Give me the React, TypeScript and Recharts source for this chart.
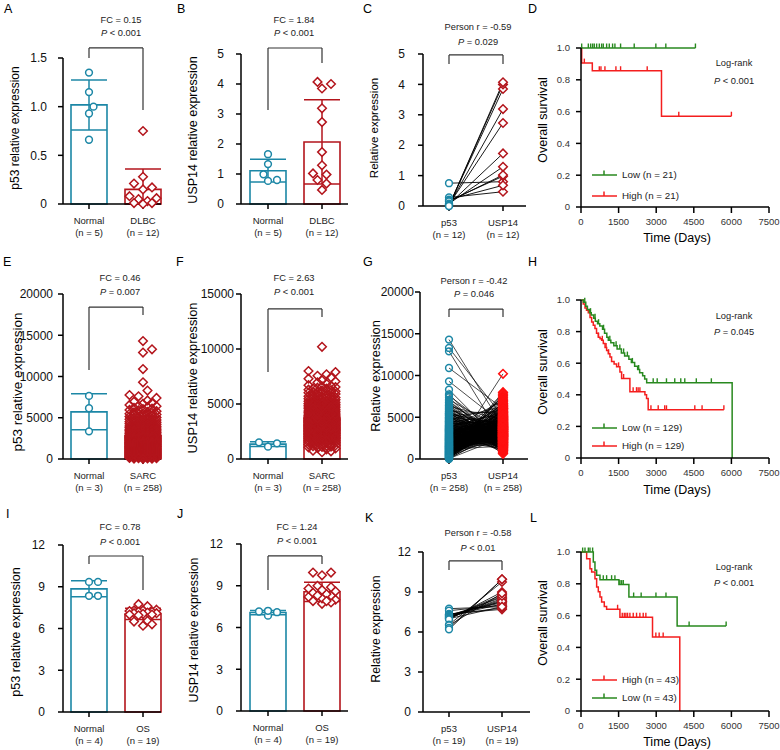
import React from "react";
import {
  ComposedChart,
  Bar,
  Cell,
  ErrorBar,
  Scatter,
  Line,
  XAxis,
  YAxis,
  ReferenceLine,
} from "recharts";

const FONT = '"Liberation Sans", Arial, Helvetica, sans-serif';
const TEAL = "#1c87a6";
const WINE = "#b3151c";
const RED = "#f41e1e";
const GREEN = "#28891f";

// ---------- DLBC (A, B, C) ----------
const dlbcNormalP53 = [1.35, 1.15, 1.0, 0.93, 0.66];
const dlbcNormalUsp14 = [1.66, 1.33, 0.99, 0.77, 0.8];
// pair order: dlbcP53[i] <-> dlbcUsp14[i]
const dlbcP53 = [0.75, 0.28, 0.21, 0.17, 0.15, 0.08, 0.06, 0.05, 0.03, 0.01, 0.01, 0.0];
const dlbcUsp14 = [0.8, 0.47, 0.68, 0.98, 1.02, 1.29, 1.73, 2.73, 3.19, 3.85, 4.0, 4.07];

// ---------- SARC (E, F, G) ----------
const sarcNormalP53 = [7650, 6150, 3350];
const sarcNormalUsp14 = [1515, 1120, 1425];
const sarcP53 = [
  14300, 13300, 12900, 10900, 9300, 8300, 7750, 7600, 7400, 7100, 6950, 6800,
  6700, 6550, 6450, 6400, 6300, 6200, 6100, 6050, 5950, 5900, 5800, 5700,
  5650, 5600, 5520, 5480, 5420, 5400, 5350, 5300, 5250, 5200, 5150, 5080,
  5020, 4980, 4950, 4900, 4870, 4820, 4780, 4730, 4700, 4650, 4600, 4560,
  4520, 4490, 4460, 4420, 4400, 4350, 4320, 4280, 4250, 4200, 4160, 4120,
  4080, 4050, 4010, 3990, 3960, 3930, 3900, 3870, 3840, 3810, 3780, 3750,
  3720, 3690, 3660, 3630, 3600, 3580, 3550, 3530, 3510, 3490, 3470, 3450,
  3420, 3400, 3380, 3350, 3320, 3300, 3270, 3250, 3220, 3200, 3170, 3150,
  3120, 3100, 3070, 3040, 3010, 2990, 2970, 2950, 2920, 2900, 2880, 2850,
  2830, 2800, 2780, 2760, 2730, 2710, 2690, 2660, 2640, 2620, 2600, 2580,
  2550, 2530, 2510, 2490, 2470, 2450, 2430, 2410, 2390, 2370, 2350, 2330,
  2310, 2290, 2270, 2250, 2230, 2210, 2190, 2170, 2150, 2120, 2100, 2080,
  2060, 2040, 2010, 1990, 1970, 1950, 1930, 1910, 1890, 1870, 1850, 1830,
  1810, 1790, 1770, 1750, 1730, 1710, 1690, 1670, 1650, 1630, 1610, 1590,
  1570, 1550, 1530, 1520, 1505, 1490, 1470, 1455, 1440, 1420, 1400, 1385,
  1370, 1350, 1330, 1315, 1300, 1280, 1260, 1245, 1230, 1210, 1190, 1175,
  1160, 1140, 1120, 1105, 1090, 1070, 1050, 1030, 1010, 990, 970, 955,
  940, 920, 900, 885, 870, 850, 830, 815, 800, 780, 760, 745,
  730, 710, 690, 675, 660, 640, 620, 605, 590, 570, 550, 535,
  520, 505, 490, 470, 455, 440, 420, 400, 385, 370, 350, 330,
  315, 300, 280, 260, 245, 230, 210, 190, 175, 160, 140, 120,
  105, 90, 70, 50, 30, 10,
];
// same patients, same order as sarcP53
const sarcUsp14 = [
  3900, 5050, 2350, 6040, 4210, 1800, 1240, 2660, 880, 3520, 1980, 2450,
  1520, 3050, 700, 2080, 4720, 1610, 2760, 1310, 3370, 960, 2200, 5480,
  2540, 1060, 3600, 1890, 4090, 2930, 1450, 3260, 620, 2310, 5820, 1740,
  3140, 2030, 4370, 1170, 2870, 3780, 1660, 2480, 6300, 3430, 1940, 2600,
  4150, 1380, 3010, 2150, 5270, 2720, 1090, 3690, 1840, 4560, 2400, 3310,
  1560, 2980, 4880, 2240, 3830, 760, 2820, 3540, 1710, 5600, 2090, 3170,
  4290, 1270, 3460, 2640, 6960, 1910, 3100, 4010, 2290, 1480, 3730, 2560,
  5130, 1340, 2840, 3960, 2420, 4450, 1020, 3280, 2700, 4770, 1760, 3580,
  2130, 6150, 3070, 1590, 4630, 2790, 3880, 2360, 5340, 1130, 3220, 4080,
  2950, 4310, 1680, 3650, 2500, 7150, 3350, 1990, 4920, 2680, 3810, 1420,
  3720, 2210, 5560, 3000, 4190, 1830, 3490, 6480, 2620, 4000, 2880, 1200,
  4470, 2730, 3600, 1920, 5020, 3150, 4260, 2330, 6610, 3410, 2040, 3940,
  2590, 4850, 3230, 5710, 1650, 3760, 2810, 4380, 3060, 5190, 2470, 4140,
  3520, 6020, 2280, 4600, 3310, 1980, 5400, 3870, 2740, 4330, 7420, 3120,
  4690, 2910, 3990, 5230, 2170, 3680, 4960, 1730, 6220, 3360, 4520, 2890,
  3200, 5650, 4070, 2650, 4790, 3570, 6390, 2930, 5060, 3840, 1540, 4410,
  5310, 3740, 2460, 4980, 6710, 3290, 4240, 5870, 2840, 4650, 3950, 7050,
  3020, 5540, 4360, 6080, 3480, 5760, 2320, 4890, 7560, 3860, 5150, 4110,
  4560, 6540, 3640, 5380, 2990, 4740, 6850, 3920, 5920, 4280, 8000, 3380,
  5450, 3780, 6270, 4820, 7300, 3510, 5080, 6650, 4020, 5980, 2780, 4710,
  6120, 4940, 7700, 3690, 5590, 10200, 4460, 6420, 5250, 7900, 4170, 6000,
  5700, 3300, 4600, 2600, 5000, 3700,
];

// ---------- OS (I, J, K) ----------
const osNormalP53 = [9.35, 9.35, 8.35, 8.35];
const osNormalUsp14 = [7.15, 6.85, 7.1, 7.2];
const osP53 = [7.75, 7.6, 7.35, 7.3, 7.3, 7.25, 7.2, 7.2, 7.15, 7.1, 7.1, 7.05, 7.0, 7.0, 6.95, 6.55, 6.5, 6.3, 6.2];
const osUsp14 = [7.9, 8.0, 7.7, 8.2, 7.8, 8.3, 8.1, 8.6, 8.4, 8.5, 8.3, 8.8, 7.9, 8.7, 9.0, 9.75, 8.9, 9.95, 9.95];

// ---------- survival curves (days, survival) ----------
const dLowT = [0, 4565];
const dLowS = [1, 1];
const dLowCens = [27, 292, 385, 464, 530, 624, 730, 823, 889, 1022, 1128, 1260, 1353, 1579, 2123, 2986, 3384, 4565];
const dHighT = [0, 27, 451, 3211, 6000];
const dHighS = [1, 0.905, 0.857, 0.571, 0.571];
const dHighCens = [133, 730, 796, 955, 1393, 1579, 2641, 3901, 6000];

const hLowT = [0, 95, 190, 255, 340, 410, 510, 570, 660, 750, 860, 940, 1030, 1090, 1190, 1310, 1440, 1610, 1740, 1910, 2010, 2140, 2260, 2340, 2460, 2540, 2620, 6030];
const hLowS = [1, 0.985, 0.96, 0.94, 0.92, 0.905, 0.885, 0.865, 0.85, 0.835, 0.815, 0.79, 0.765, 0.745, 0.73, 0.71, 0.69, 0.665, 0.645, 0.625, 0.605, 0.58, 0.56, 0.54, 0.52, 0.5, 0.476, 0];
const hLowCens = [150, 380, 560, 700, 900, 1150, 1400, 1550, 1700, 1850, 2050, 2300, 2880, 3040, 3410, 3740, 3980, 4140, 4600, 5200];
const hHighT = [0, 90, 160, 220, 290, 360, 425, 490, 557, 620, 690, 760, 823, 890, 960, 1022, 1090, 1155, 1220, 1320, 1420, 1553, 1620, 1951, 2550, 2615, 2680, 5700];
const hHighS = [1, 0.975, 0.95, 0.935, 0.92, 0.89, 0.86, 0.84, 0.82, 0.79, 0.765, 0.755, 0.745, 0.725, 0.7, 0.68, 0.66, 0.64, 0.61, 0.595, 0.577, 0.545, 0.503, 0.42, 0.4, 0.377, 0.305, 0.305];
const hHighCens = [700, 850, 1000, 1100, 1500, 1700, 2080, 2215, 2280, 2350, 2790, 3080, 3340, 3410, 4540, 4830, 5700];

const lLowT = [0, 491, 557, 624, 757, 1513, 1911, 3835, 5790];
const lLowS = [1, 0.937, 0.885, 0.853, 0.826, 0.795, 0.717, 0.535, 0.535];
const lLowCens = [66, 159, 292, 358, 464, 889, 1022, 1221, 1353, 1553, 1620, 1686, 2100, 2400, 2990, 3390, 4313, 5790];
const lHighT = [0, 226, 358, 425, 557, 624, 690, 757, 823, 929, 1022, 1553, 2853, 3941];
const lHighS = [1, 0.958, 0.895, 0.874, 0.832, 0.78, 0.75, 0.717, 0.686, 0.658, 0.64, 0.59, 0.465, 0];
const lHighCens = [1460, 1646, 1726, 1791, 1858, 1951, 2084, 2216, 2349, 2482, 2588, 2986, 3118, 3278];

const kmTicks = [0, 1500, 3000, 4500, 6000, 7500];
const survTicks = [0, 0.2, 0.4, 0.6, 0.8, 1.0];

// ---------- helpers ----------
const YW = 60;
const MT = 40;
const MR = 16;
const XH = 45;
const AX = { stroke: "#000", strokeWidth: 1.5 };

const mean = (a: number[]) => a.reduce((s, v) => s + v, 0) / a.length;
const sd = (a: number[]) => {
  const m = mean(a);
  return Math.sqrt(a.reduce((s, v) => s + (v - m) * (v - m), 0) / (a.length - 1));
};

// simple beeswarm: horizontal pixel offsets so markers do not sit on each other
function swarm(vals: number[], pxPerUnit: number, size: number, maxOff: number) {
  const order = vals.map((_, i) => i).sort((a, b) => vals[a] - vals[b]);
  const step = size * 0.6;
  const cands = [0];
  for (let k = 1; k * step <= maxOff; k++) cands.push(k * step, -k * step);
  const placed: { x: number; y: number }[] = [];
  const out = vals.map(() => 0);
  for (const i of order) {
    const y = vals[i] * pxPerUnit;
    let best = 0;
    let bestD = -1;
    for (const c of cands) {
      let dmin = Infinity;
      for (let j = placed.length - 1; j >= 0 && y - placed[j].y < size; j--) {
        const d = Math.hypot(c - placed[j].x, y - placed[j].y);
        if (d < dmin) dmin = d;
      }
      if (dmin >= size) {
        best = c;
        break;
      }
      if (dmin > bestD) {
        bestD = dmin;
        best = c;
      }
    }
    placed.push({ x: best, y });
    out[i] = best;
  }
  return out;
}

const circle = (color: string, fill = "#fff") => (p: any) =>
  p.cx == null ? <g /> : (
    <circle cx={p.cx + (p.payload.dx || 0)} cy={p.cy} r={3.4} fill={fill} stroke={color} strokeWidth={1.5} />
  );

const diamond = (color: string, fill = "#fff") => (p: any) => {
  if (p.cx == null) return <g />;
  const x = p.cx + (p.payload.dx || 0);
  const y = p.cy;
  const r = 4.3;
  return (
    <path d={`M${x},${y - r}L${x + r},${y}L${x},${y + r}L${x - r},${y}Z`} fill={fill} stroke={color} strokeWidth={1.5} />
  );
};

const censor = (color: string) => (p: any) =>
  p.cx == null ? <g /> : <line x1={p.cx} x2={p.cx} y1={p.cy} y2={p.cy - 4.5} stroke={color} strokeWidth={1.4} />;

// dense groups are drawn as open outlines so the overlap builds a solid mass
const fillFor = (n: number) => (n > 50 ? "none" : "#fff");

function CatTick({ x, y, payload, names, counts }: any) {
  const i = Math.round(payload.value) - 1;
  return (
    <text x={x} y={y} textAnchor="middle" fontSize={9.5} fill="#222" fontFamily={FONT}>
      <tspan x={x} dy={15}>{names[i]}</tspan>
      <tspan x={x} dy={11.5}>{`(n = ${counts[i]})`}</tspan>
    </text>
  );
}

function bracketLines(b: number[]) {
  const st = { stroke: "#333", strokeWidth: 1.2, ifOverflow: "visible" as const };
  return [
    <ReferenceLine key="b0" segment={[{ x: 1, y: b[0] }, { x: 2, y: b[0] }]} {...st} />,
    <ReferenceLine key="b1" segment={[{ x: 1, y: b[0] }, { x: 1, y: b[1] }]} {...st} />,
    <ReferenceLine key="b2" segment={[{ x: 2, y: b[0] }, { x: 2, y: b[2] }]} {...st} />,
  ];
}

function catDomain(g: any) {
  const band = g.c2 - g.c1;
  return [1 - (g.c1 - g.left) / band, 2 + (g.right - g.c2) / band];
}

const tickFmt = (ticks: number[]) => {
  const dec = ticks.some((t) => t % 1 !== 0);
  return (v: number) => (v === 0 ? "0" : dec ? v.toFixed(1) : String(v));
};

function ValueAxis({ yMax, yTicks, gap }: any) {
  return null;
}

function BarPanel({ g, yMax, yTicks, names, sets, colors, marks, bracket, gap }: any) {
  const pw = g.right - g.left;
  const ph = g.bottom - g.top;
  const pxY = ph / yMax;
  const rows = sets.map((vals: number[], i: number) => {
    const m = mean(vals);
    const s = sd(vals);
    return { x: i + 1, mean: m, ["err" + i]: [Math.min(s, m), s] };
  });
  const dots = sets.map((vals: number[], i: number) => {
    const off = swarm(vals, pxY, 7.5, 15);
    return vals.map((v, j) => ({ x: i + 1, v, dx: off[j] }));
  });
  const counts = sets.map((s: number[]) => s.length);
  return (
    <div style={{ position: "absolute", left: g.left - YW, top: g.top - MT }}>
      <ComposedChart width={pw + YW + MR} height={ph + MT + XH} data={rows} margin={{ top: MT, right: MR, bottom: 0, left: 0 }}>
        <XAxis
          dataKey="x"
          type="number"
          domain={catDomain(g)}
          ticks={[1, 2]}
          interval={0}
          height={XH}
          axisLine={AX}
          tickLine={AX}
          tickSize={5}
          tickMargin={0}
          tick={(p: any) => <CatTick {...p} names={names} counts={counts} />}
        />
        <YAxis
          type="number"
          domain={[0, yMax]}
          ticks={yTicks}
          interval={0}
          width={YW}
          axisLine={AX}
          tickLine={AX}
          tickSize={5}
          tickMargin={gap}
          tickFormatter={tickFmt(yTicks)}
          tick={{ fontSize: 12, fill: "#111", fontFamily: FONT }}
        />
        <Bar dataKey="mean" barSize={36} fill="none" strokeWidth={1.6} isAnimationActive={false}>
          {rows.map((_: any, i: number) => (
            <Cell key={i} stroke={colors[i]} fill="none" />
          ))}
          <ErrorBar dataKey="err0" width={18} strokeWidth={1.5} stroke={colors[0]} />
          <ErrorBar dataKey="err1" width={18} strokeWidth={1.5} stroke={colors[1]} />
        </Bar>
        {bracketLines(bracket)}
        {dots.map((d: any[], i: number) => (
          <Scatter
            key={i}
            data={d}
            dataKey="v"
            shape={marks[i](colors[i], fillFor(d.length))}
            isAnimationActive={false}
          />
        ))}
      </ComposedChart>
    </div>
  );
}

function PairPanel({ g, yMax, yTicks, a, b, colors, lineW, bracket, gap }: any) {
  const pw = g.right - g.left;
  const ph = g.bottom - g.top;
  const da = a.map((v: number) => ({ x: 1, v }));
  const db = b.map((v: number) => ({ x: 2, v }));
  const counts = [a.length, b.length];
  return (
    <div style={{ position: "absolute", left: g.left - YW, top: g.top - MT }}>
      <ComposedChart width={pw + YW + MR} height={ph + MT + XH} margin={{ top: MT, right: MR, bottom: 0, left: 0 }}>
        <XAxis
          dataKey="x"
          type="number"
          domain={catDomain(g)}
          ticks={[1, 2]}
          interval={0}
          height={XH}
          axisLine={AX}
          tickLine={AX}
          tickSize={5}
          tickMargin={0}
          tick={(p: any) => <CatTick {...p} names={["p53", "USP14"]} counts={counts} />}
        />
        <YAxis
          type="number"
          domain={[0, yMax]}
          ticks={yTicks}
          interval={0}
          width={YW}
          axisLine={AX}
          tickLine={AX}
          tickSize={5}
          tickMargin={gap}
          tickFormatter={tickFmt(yTicks)}
          tick={{ fontSize: 12, fill: "#111", fontFamily: FONT }}
        />
        {a.map((v: number, i: number) => (
          <ReferenceLine
            key={"p" + i}
            segment={[{ x: 1, y: v }, { x: 2, y: b[i] }]}
            stroke="#000"
            strokeWidth={lineW}
            ifOverflow="visible"
          />
        ))}
        {bracketLines(bracket)}
        <Scatter data={da} dataKey="v" shape={circle(colors[0], fillFor(a.length))} isAnimationActive={false} />
        <Scatter data={db} dataKey="v" shape={diamond(colors[1], fillFor(b.length))} isAnimationActive={false} />
      </ComposedChart>
    </div>
  );
}

const survAt = (t: number[], s: number[], x: number) => {
  let v = s[0];
  for (let i = 0; i < t.length; i++) if (t[i] <= x) v = s[i];
  return v;
};

function KmPanel({ g, curves }: any) {
  const pw = g.right - g.left;
  const ph = g.bottom - g.top;
  return (
    <div style={{ position: "absolute", left: g.left - YW, top: g.top - MT }}>
      <ComposedChart width={pw + YW + MR} height={ph + MT + XH} margin={{ top: MT, right: MR, bottom: 0, left: 0 }}>
        <XAxis
          dataKey="t"
          type="number"
          domain={[0, 7500]}
          ticks={kmTicks}
          interval={0}
          height={XH}
          axisLine={AX}
          tickLine={AX}
          tickSize={6}
          tickMargin={5}
          tick={{ fontSize: 9.5, fill: "#333", fontFamily: FONT }}
        />
        <YAxis
          type="number"
          domain={[0, 1]}
          ticks={survTicks}
          interval={0}
          width={YW}
          axisLine={AX}
          tickLine={AX}
          tickSize={5}
          tickMargin={6}
          tickFormatter={(v: number) => (v === 0 ? "0" : v.toFixed(1))}
          tick={{ fontSize: 9.5, fill: "#333", fontFamily: FONT }}
        />
        {curves.map((c: any, i: number) => (
          <Line
            key={"l" + i}
            data={c.t.map((t: number, j: number) => ({ t, s: c.s[j] }))}
            dataKey="s"
            type="stepAfter"
            stroke={c.color}
            strokeWidth={1.5}
            dot={false}
            isAnimationActive={false}
          />
        ))}
        {curves.map((c: any, i: number) => (
          <Scatter
            key={"c" + i}
            data={c.cens.map((t: number) => ({ t, s: survAt(c.t, c.s, t) }))}
            dataKey="s"
            shape={censor(c.color)}
            isAnimationActive={false}
          />
        ))}
      </ComposedChart>
    </div>
  );
}

function Txt({ x, y, size = 9.3, anchor = "middle", rot = false, color = "#222", children }: any) {
  const tx = anchor === "start" ? "0%" : anchor === "end" ? "-100%" : "-50%";
  return (
    <div
      style={{
        position: "absolute",
        left: x,
        top: y,
        fontSize: size,
        lineHeight: 1,
        color,
        whiteSpace: "nowrap",
        transform: `translate(${rot ? "-50%" : tx}, -50%)` + (rot ? " rotate(-90deg)" : ""),
      }}
    >
      {children}
    </div>
  );
}

function KmKey({ x, y, color, label }: any) {
  return (
    <>
      <svg style={{ position: "absolute", left: x, top: y - 6 }} width={27} height={10}>
        <line x1={0} y1={6} x2={25} y2={6} stroke={color} strokeWidth={1.5} />
        <line x1={12} y1={6} x2={12} y2={1.5} stroke={color} strokeWidth={1.5} />
      </svg>
      <Txt x={x + 30} y={y} anchor="start" size={9.8}>
        {label}
      </Txt>
    </>
  );
}

const P = ({ rel, v }: any) => (
  <>
    <i>P</i> {rel} {v}
  </>
);

export default function App() {
  return (
    <div
      style={{
        position: "absolute",
        left: 0,
        top: 0,
        width: 780,
        height: 750,
        background: "#fff",
        overflow: "hidden",
        fontFamily: FONT,
      }}
    >
      {/* Row 1 */}
      <BarPanel
        g={{ left: 63, right: 161, top: 58, bottom: 204, c1: 89, c2: 143 }}
        yMax={1.5}
        yTicks={[0, 0.5, 1.0, 1.5]}
        names={["Normal", "DLBC"]}
        sets={[dlbcNormalP53, dlbcP53]}
        colors={[TEAL, WINE]}
        marks={[circle, diamond]}
        bracket={[1.603, 1.5, 0.966]}
        gap={11}
      />
      <BarPanel
        g={{ left: 241, right: 348, top: 54, bottom: 204, c1: 268, c2: 322 }}
        yMax={5}
        yTicks={[0, 1, 2, 3, 4, 5]}
        names={["Normal", "DLBC"]}
        sets={[dlbcNormalUsp14, dlbcUsp14]}
        colors={[TEAL, WINE]}
        marks={[circle, diamond]}
        bracket={[5.2, 3.13, 4.7]}
        gap={12}
      />
      <PairPanel
        g={{ left: 423, right: 526, top: 54, bottom: 206, c1: 449, c2: 503 }}
        yMax={5}
        yTicks={[0, 1, 2, 3, 4, 5]}
        a={dlbcP53}
        b={dlbcUsp14}
        colors={[TEAL, WINE]}
        lineW={0.9}
        bracket={[4.97, 4.67, 4.67]}
        gap={13}
      />
      <KmPanel
        g={{ left: 581, right: 769, top: 48, bottom: 207 }}
        curves={[
          { t: dHighT, s: dHighS, cens: dHighCens, color: RED },
          { t: dLowT, s: dLowS, cens: dLowCens, color: GREEN },
        ]}
      />

      {/* Row 2 */}
      <BarPanel
        g={{ left: 63, right: 161, top: 294, bottom: 459, c1: 89, c2: 143 }}
        yMax={20000}
        yTicks={[0, 5000, 10000, 15000, 20000]}
        names={["Normal", "SARC"]}
        sets={[sarcNormalP53, sarcP53]}
        colors={[TEAL, WINE]}
        marks={[circle, diamond]}
        bracket={[18420, 10790, 17450]}
        gap={5}
      />
      <BarPanel
        g={{ left: 241, right: 348, top: 294, bottom: 459, c1: 268, c2: 322 }}
        yMax={15000}
        yTicks={[0, 5000, 10000, 15000]}
        names={["Normal", "SARC"]}
        sets={[sarcNormalUsp14, sarcUsp14]}
        colors={[TEAL, WINE]}
        marks={[circle, diamond]}
        bracket={[13640, 7910, 12910]}
        gap={2}
      />
      <PairPanel
        g={{ left: 420, right: 528, top: 292, bottom: 459, c1: 449, c2: 503 }}
        yMax={20000}
        yTicks={[0, 5000, 10000, 15000, 20000]}
        a={sarcP53}
        b={sarcUsp14}
        colors={[TEAL, "#ff1010"]}
        lineW={0.7}
        bracket={[17960, 17010, 17010]}
        gap={1}
      />
      <KmPanel
        g={{ left: 581, right: 769, top: 300, bottom: 458 }}
        curves={[
          { t: hHighT, s: hHighS, cens: hHighCens, color: RED },
          { t: hLowT, s: hLowS, cens: hLowCens, color: GREEN },
        ]}
      />

      {/* Row 3 */}
      <BarPanel
        g={{ left: 63, right: 161, top: 545, bottom: 712, c1: 89, c2: 143 }}
        yMax={12}
        yTicks={[0, 3, 6, 9, 12]}
        names={["Normal", "OS"]}
        sets={[osNormalP53, osP53]}
        colors={[TEAL, WINE]}
        marks={[circle, diamond]}
        bracket={[11.21, 10.63, 8.77]}
        gap={13}
      />
      <BarPanel
        g={{ left: 241, right: 348, top: 544, bottom: 711, c1: 268, c2: 322 }}
        yMax={12}
        yTicks={[0, 3, 6, 9, 12]}
        names={["Normal", "OS"]}
        sets={[osNormalUsp14, osUsp14]}
        colors={[TEAL, WINE]}
        marks={[circle, diamond]}
        bracket={[11.14, 8.69, 10.56]}
        gap={13}
      />
      <PairPanel
        g={{ left: 423, right: 530, top: 552, bottom: 712, c1: 449, c2: 502 }}
        yMax={12}
        yTicks={[0, 3, 6, 9, 12]}
        a={osP53}
        b={osUsp14}
        colors={[TEAL, WINE]}
        lineW={0.8}
        bracket={[11.33, 10.65, 10.65]}
        gap={7}
      />
      <KmPanel
        g={{ left: 581, right: 769, top: 552, bottom: 711 }}
        curves={[
          { t: lHighT, s: lHighS, cens: lHighCens, color: RED },
          { t: lLowT, s: lLowS, cens: lLowCens, color: GREEN },
        ]}
      />

      {/* panel letters */}
      <Txt x={4} y={9} size={12.5} anchor="start" color="#000">A</Txt>
      <Txt x={177} y={9} size={12.5} anchor="start" color="#000">B</Txt>
      <Txt x={363} y={9} size={12.5} anchor="start" color="#000">C</Txt>
      <Txt x={528} y={9} size={12.5} anchor="start" color="#000">D</Txt>
      <Txt x={3} y={262} size={12.5} anchor="start" color="#000">E</Txt>
      <Txt x={176} y={262} size={12.5} anchor="start" color="#000">F</Txt>
      <Txt x={363} y={262} size={12.5} anchor="start" color="#000">G</Txt>
      <Txt x={528} y={262} size={12.5} anchor="start" color="#000">H</Txt>
      <Txt x={6} y={514} size={12.5} anchor="start" color="#000">I</Txt>
      <Txt x={177} y={514} size={12.5} anchor="start" color="#000">J</Txt>
      <Txt x={365} y={518} size={12.5} anchor="start" color="#000">K</Txt>
      <Txt x={530} y={518} size={12.5} anchor="start" color="#000">L</Txt>

      {/* axis titles */}
      <Txt x={15} y={128} size={12} rot color="#000">p53 relative expression</Txt>
      <Txt x={193} y={130} size={12.5} rot color="#000">USP14 relative expression</Txt>
      <Txt x={375} y={128} size={11.5} rot color="#000">Relative expression</Txt>
      <Txt x={543} y={120} size={12.5} rot color="#000">Overall survival</Txt>
      <Txt x={18} y={382} size={13.5} rot color="#000">p53 relative expression</Txt>
      <Txt x={193} y={378} size={12.8} rot color="#000">USP14 relative expression</Txt>
      <Txt x={376} y={376} size={12.8} rot color="#000">Relative expression</Txt>
      <Txt x={543} y={372} size={12.5} rot color="#000">Overall survival</Txt>
      <Txt x={16} y={632} size={12.6} rot color="#000">p53 relative expression</Txt>
      <Txt x={194} y={630} size={12.3} rot color="#000">USP14 relative expression</Txt>
      <Txt x={376} y={629} size={12.3} rot color="#000">Relative expression</Txt>
      <Txt x={543} y={623} size={12.5} rot color="#000">Overall survival</Txt>
      <Txt x={677} y={238} size={12.5} color="#000">Time (Days)</Txt>
      <Txt x={677} y={490} size={12.5} color="#000">Time (Days)</Txt>
      <Txt x={677} y={742} size={12.5} color="#000">Time (Days)</Txt>

      {/* statistics */}
      <Txt x={121} y={21}>FC = 0.15</Txt>
      <Txt x={121} y={34}><P rel="<" v="0.001" /></Txt>
      <Txt x={294} y={21}>FC = 1.84</Txt>
      <Txt x={294} y={34}><P rel="<" v="0.001" /></Txt>
      <Txt x={478} y={28}>Person r = -0.59</Txt>
      <Txt x={478} y={43}><P rel="=" v="0.029" /></Txt>
      <Txt x={734} y={64}>Log-rank</Txt>
      <Txt x={734} y={82}><P rel="<" v="0.001" /></Txt>

      <Txt x={120} y={279}>FC = 0.46</Txt>
      <Txt x={120} y={293}><P rel="=" v="0.007" /></Txt>
      <Txt x={294} y={279}>FC = 2.63</Txt>
      <Txt x={294} y={293}><P rel="<" v="0.001" /></Txt>
      <Txt x={474} y={282}>Person r = -0.42</Txt>
      <Txt x={474} y={295}><P rel="=" v="0.046" /></Txt>
      <Txt x={734} y={317}>Log-rank</Txt>
      <Txt x={734} y={333}><P rel="=" v="0.045" /></Txt>

      <Txt x={120} y={528}>FC = 0.78</Txt>
      <Txt x={120} y={543}><P rel="<" v="0.001" /></Txt>
      <Txt x={297} y={528}>FC = 1.24</Txt>
      <Txt x={297} y={542}><P rel="<" v="0.001" /></Txt>
      <Txt x={478} y={534}>Person r = -0.58</Txt>
      <Txt x={478} y={549}><P rel="<" v="0.01" /></Txt>
      <Txt x={734} y={568}>Log-rank</Txt>
      <Txt x={734} y={584}><P rel="<" v="0.001" /></Txt>

      {/* survival legends */}
      <KmKey x={592} y={175} color={GREEN} label="Low (n = 21)" />
      <KmKey x={592} y={196} color={RED} label="High (n = 21)" />
      <KmKey x={592} y={428} color={GREEN} label="Low (n = 129)" />
      <KmKey x={592} y={446} color={RED} label="High (n = 129)" />
      <KmKey x={592} y={680} color={RED} label="High (n = 43)" />
      <KmKey x={592} y={698} color={GREEN} label="Low (n = 43)" />
    </div>
  );
}
